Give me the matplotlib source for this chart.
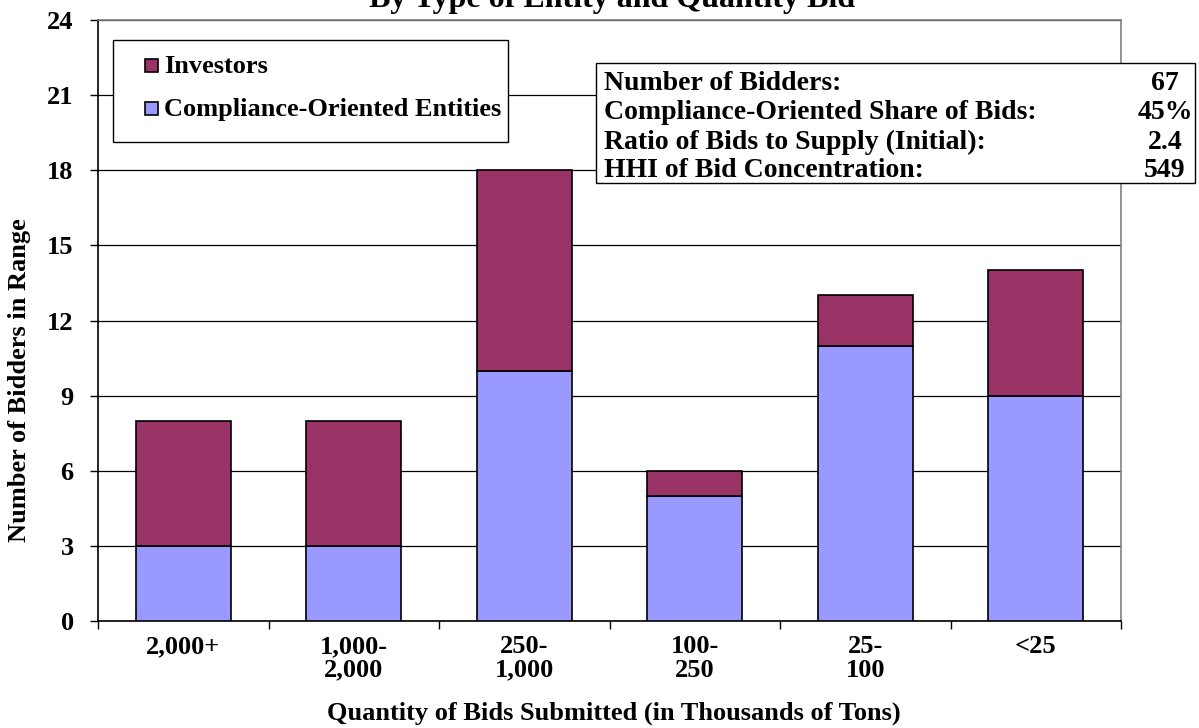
import matplotlib
matplotlib.use("Agg")
import matplotlib.pyplot as plt
from matplotlib.patches import Rectangle
import numpy as np

categories = ["2,000+", "1,000-\n2,000", "250-\n1,000", "100-\n250", "25-\n100", "<25"]
compliance = [3, 3, 10, 5, 11, 9]
investors = [5, 5, 8, 1, 2, 5]
stat_labels = ["Number of Bidders:", "Compliance-Oriented Share of Bids:",
               "Ratio of Bids to Supply (Initial):", "HHI of Bid Concentration:"]
stat_values = ["67", "45%", "2.4", "549"]
title = "By Type of Entity and Quantity Bid"

plt.rcParams['font.family'] = ['Liberation Serif', 'DejaVu Serif']
plt.rcParams['font.weight'] = 'bold'

W, H = 1199, 728
C_COMP = "#9999FF"
C_INV = "#993366"
fig = plt.figure(figsize=(W / 100, H / 100), dpi=100)
ax = fig.add_axes([98 / W, 1 - 621 / H, (1121 - 98) / W, (621 - 20) / H])


def fx(px):
    return px / W


def fy(py):
    return 1 - py / H


x = np.arange(len(categories))
bw = 0.557
ax.bar(x, compliance, bw, color=C_COMP, edgecolor="black", linewidth=1.2, zorder=3)
ax.bar(x, investors, bw, bottom=compliance, color=C_INV, edgecolor="black", linewidth=1.2,
       zorder=3)

ax.set_xlim(-0.5, len(categories) - 0.5)
ax.set_ylim(0, 24)
ax.set_yticks(range(0, 25, 3))
ax.yaxis.grid(True, color="black", linewidth=0.9, zorder=0)
ax.set_xticks(x)
ax.set_xticklabels(categories, fontsize=19, fontweight="bold", linespacing=1.05)
ax.set_xticks(np.arange(-0.5, len(categories), 1), minor=True)
ax.tick_params(axis="x", which="major", length=0, pad=10)
ax.tick_params(axis="x", which="minor", length=6, direction="out", width=1)
ax.tick_params(axis="y", length=6, direction="out", width=1, labelsize=19, pad=11.5)
for lab in ax.get_yticklabels():
    lab.set_fontweight("bold")

for s in ["top", "right"]:
    ax.spines[s].set_color("#808080")
    ax.spines[s].set_linewidth(1.2)
for s in ["left", "bottom"]:
    ax.spines[s].set_color("black")
    ax.spines[s].set_linewidth(1.2)

fig.text(fx(20), fy(380), "Number of Bidders in Range", rotation=90, ha="center",
         va="center", fontsize=19, fontweight="bold")
fig.text(fx(614), fy(720), "Quantity of Bids Submitted (in Thousands of Tons)", ha="center",
         va="baseline", fontsize=19, fontweight="bold")

fig.text(fx(612), fy(7), title, ha="center", va="baseline", fontsize=23, fontweight="bold")

# legend (drawn by hand to match the reference box)
lx0, lx1, ly0, ly1 = 113, 508, 40, 142
fig.patches.append(Rectangle((fx(lx0), fy(ly1)), (lx1 - lx0) / W, (ly1 - ly0) / H,
                             transform=fig.transFigure, facecolor="white", edgecolor="black",
                             linewidth=1.0, zorder=5))
leg_items = [("Investors", C_INV, 73), ("Compliance-Oriented Entities", C_COMP, 116)]
for name, col, base in leg_items:
    sq = 13
    fig.patches.append(Rectangle((fx(145), fy(base - 1)), sq / W, sq / H,
                                 transform=fig.transFigure, facecolor=col,
                                 edgecolor="black", linewidth=1.2, zorder=6))
    fig.text(fx(164), fy(base), name, ha="left", va="baseline", fontsize=19,
             fontweight="bold", zorder=6)

# statistics box
bx0, bx1, by0, by1 = 596, 1195, 63, 183
fig.patches.append(Rectangle((fx(bx0), fy(by1)), (bx1 - bx0) / W, (by1 - by0) / H,
                             transform=fig.transFigure, facecolor="white", edgecolor="black",
                             linewidth=1.0, zorder=5))
rows_y = [90, 119, 149, 177]
for lbl, val, yy in zip(stat_labels, stat_values, rows_y):
    fig.text(fx(604), fy(yy), lbl, ha="left", va="baseline", fontsize=20,
             fontweight="bold", zorder=6)
    fig.text(fx(1165), fy(yy), val, ha="center", va="baseline", fontsize=20,
             fontweight="bold", zorder=6)

fig.savefig("out.png", dpi=100)
